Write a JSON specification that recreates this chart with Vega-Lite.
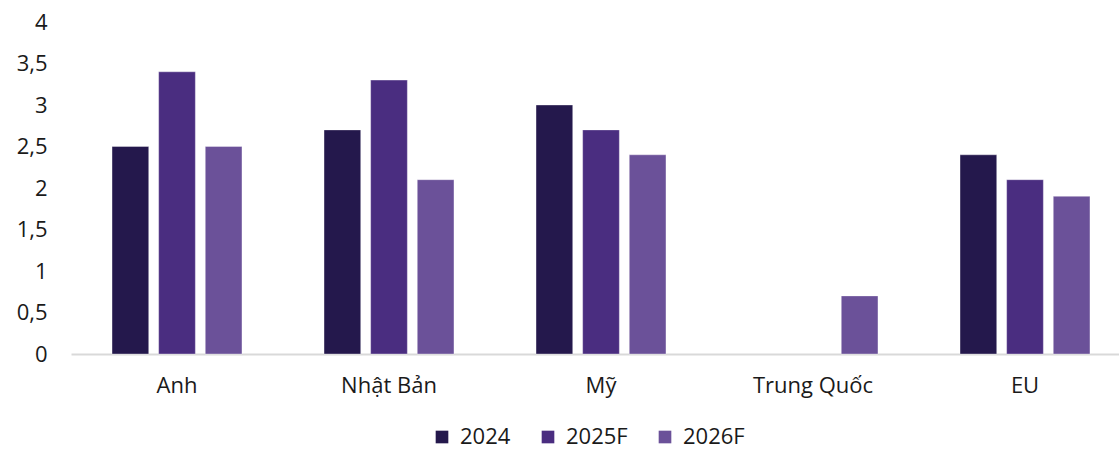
{
  "$schema": "https://vega.github.io/schema/vega-lite/v6.json",
  "width": 1048,
  "height": 332,
  "autosize": {"type": "none"},
  "padding": {"left": 71, "top": 22, "right": 0, "bottom": 96},
  "config": {
    "font": "Open Sans",
    "view": {"stroke": null},
    "axis": {"labelFont": "Open Sans", "labelFontSize": 22, "labelColor": "#1a1a1a"},
    "legend": {"labelFont": "Open Sans", "labelFontSize": 22, "labelColor": "#1a1a1a"}
  },
  "data": {
    "values": [
      {"country": "Anh", "year": "2024", "value": 2.5},
      {"country": "Anh", "year": "2025F", "value": 3.4},
      {"country": "Anh", "year": "2026F", "value": 2.5},
      {"country": "Nhật Bản", "year": "2024", "value": 2.7},
      {"country": "Nhật Bản", "year": "2025F", "value": 3.3},
      {"country": "Nhật Bản", "year": "2026F", "value": 2.1},
      {"country": "Mỹ", "year": "2024", "value": 3.0},
      {"country": "Mỹ", "year": "2025F", "value": 2.7},
      {"country": "Mỹ", "year": "2026F", "value": 2.4},
      {"country": "Trung Quốc", "year": "2026F", "value": 0.7},
      {"country": "EU", "year": "2024", "value": 2.4},
      {"country": "EU", "year": "2025F", "value": 2.1},
      {"country": "EU", "year": "2026F", "value": 1.9}
    ]
  },
  "mark": {"type": "bar", "stroke": "#ffffff", "strokeOpacity": 0.35, "strokeWidth": 1},
  "encoding": {
    "x": {
      "field": "country",
      "type": "nominal",
      "sort": ["Anh", "Nhật Bản", "Mỹ", "Trung Quốc", "EU"],
      "scale": {"paddingInner": 0, "paddingOuter": 0, "range": [0, 1060]},
      "axis": {
        "title": null,
        "labelAngle": 0,
        "ticks": false,
        "domainColor": "#d9d9d9",
        "domainWidth": 2,
        "labelPadding": 21
      }
    },
    "xOffset": {
      "field": "year",
      "type": "nominal",
      "scale": {"domain": ["2024", "2025F", "2026F"], "paddingInner": 0.213, "paddingOuter": 0.88}
    },
    "y": {
      "field": "value",
      "type": "quantitative",
      "scale": {"domain": [0, 4]},
      "axis": {
        "title": null,
        "domain": false,
        "ticks": false,
        "grid": false,
        "values": [0, 0.5, 1, 1.5, 2, 2.5, 3, 3.5, 4],
        "format": "~g",
        "labelOverlap": false,
        "labelExpr": "replace(datum.label, '.', ',')",
        "labelPadding": 24
      }
    },
    "color": {
      "field": "year",
      "type": "nominal",
      "scale": {"domain": ["2024", "2025F", "2026F"], "range": ["#24184c", "#4a2d80", "#6b5199"]},
      "legend": {
        "title": null,
        "orient": "none",
        "direction": "horizontal",
        "legendX": 360,
        "legendY": 404,
        "symbolType": "square",
        "symbolSize": 160,
        "symbolStrokeWidth": 0,
        "columnPadding": 26,
        "labelOffset": 7
      }
    }
  }
}
